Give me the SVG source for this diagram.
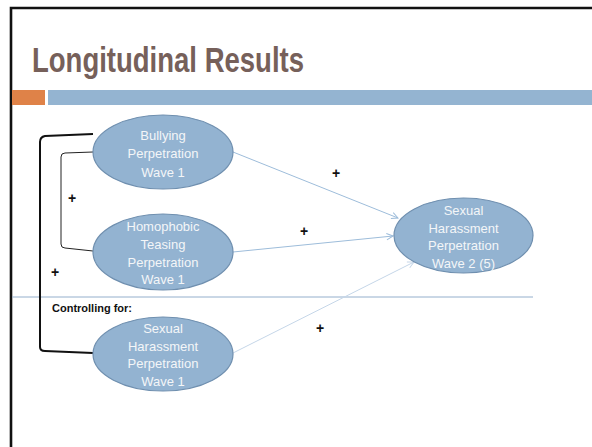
<svg xmlns="http://www.w3.org/2000/svg" width="592" height="447" viewBox="0 0 592 447">
  <defs>
    <style>
      .node ellipse { fill: #93B3D1; stroke: #6F8FAF; stroke-width: 1.2; }
      .node text { font-family: "Liberation Sans", Arial, sans-serif; font-size: 13px; fill: #F4F6F8; text-anchor: middle; }
      .plus { font-family: "Liberation Sans", Arial, sans-serif; font-size: 14px; font-weight: bold; fill: #111; text-anchor: middle; }
      .edge { fill: none; stroke: #9DBCDA; stroke-width: 1; }
      .edge.faint { stroke: #C5D6E8; }
    </style>
    <marker id="arrow" viewBox="0 0 10 10" refX="9" refY="5" markerWidth="8" markerHeight="8" orient="auto" markerUnits="userSpaceOnUse">
      <path d="M1,1 L9,5 L1,9" fill="none" stroke="#9DBCDA" stroke-width="1.2"/>
    </marker>
    <marker id="arrowFaint" viewBox="0 0 10 10" refX="9" refY="5" markerWidth="8" markerHeight="8" orient="auto" markerUnits="userSpaceOnUse">
      <path d="M1,1 L9,5 L1,9" fill="none" stroke="#C5D6E8" stroke-width="1.2"/>
    </marker>
  </defs>

  <rect width="592" height="447" fill="#FFFFFF"/>

  <!-- slide frame -->
  <path d="M11,447 L11,8 L592,8" fill="none" stroke="#111" stroke-width="2.6"/>

  <!-- title -->
  <text x="32" y="72" font-family="Liberation Sans, Arial, sans-serif" font-size="35" font-weight="bold" fill="#76605A" textLength="272" lengthAdjust="spacingAndGlyphs">Longitudinal Results</text>

  <!-- accent bars -->
  <rect x="12" y="90" width="33" height="15" fill="#DF8248"/>
  <rect x="48" y="90" width="544" height="15" fill="#94B4D1"/>

  <!-- divider -->
  <line x1="12" y1="297" x2="533" y2="297" stroke="#94AFCC" stroke-width="1"/>
  <text x="52" y="312" font-family="Liberation Sans, Arial, sans-serif" font-size="11" font-weight="bold" fill="#111">Controlling for:</text>

  <!-- connectors -->
  <g id="connectors">
    <path d="M93,134 L45,136 Q40,137 40,142 L40,347 Q40,351 45,351 L93,353" fill="none" stroke="#111" stroke-width="2"/>
    <path d="M93,152 L65,153 Q61,153 61,157 L61,244 Q61,248 65,248 L93,251" fill="none" stroke="#222" stroke-width="1"/>
    <line class="edge" x1="233" y1="152" x2="398" y2="218" marker-end="url(#arrow)"/>
    <line class="edge" x1="233" y1="252" x2="393" y2="236" marker-end="url(#arrow)"/>
    <line class="edge faint" x1="233" y1="353" x2="414" y2="262" marker-end="url(#arrowFaint)"/>
  </g>

  <!-- signs -->
  <text class="plus" x="336" y="178">+</text>
  <text class="plus" x="304" y="236">+</text>
  <text class="plus" x="320" y="333">+</text>
  <text class="plus" x="72" y="203">+</text>
  <text class="plus" x="55" y="277">+</text>

  <g id="bullying" class="node">
    <ellipse cx="163" cy="152" rx="70" ry="37"/>
    <text x="163" y="140">Bullying</text>
    <text x="163" y="158">Perpetration</text>
    <text x="163" y="177">Wave 1</text>
  </g>

  <g id="homophobic" class="node">
    <ellipse cx="163" cy="252" rx="70" ry="38"/>
    <text x="163" y="231">Homophobic</text>
    <text x="163" y="249">Teasing</text>
    <text x="163" y="267">Perpetration</text>
    <text x="163" y="284">Wave 1</text>
  </g>

  <g id="sh-wave1" class="node">
    <ellipse cx="163" cy="354" rx="70" ry="37"/>
    <text x="163" y="333">Sexual</text>
    <text x="163" y="351">Harassment</text>
    <text x="163" y="368">Perpetration</text>
    <text x="163" y="386">Wave 1</text>
  </g>

  <g id="sh-wave2" class="node">
    <ellipse cx="463.5" cy="235.5" rx="69.5" ry="37.5"/>
    <text x="463.5" y="215">Sexual</text>
    <text x="463.5" y="233">Harassment</text>
    <text x="463.5" y="250">Perpetration</text>
    <text x="463.5" y="268">Wave 2 (5)</text>
  </g>
</svg>
